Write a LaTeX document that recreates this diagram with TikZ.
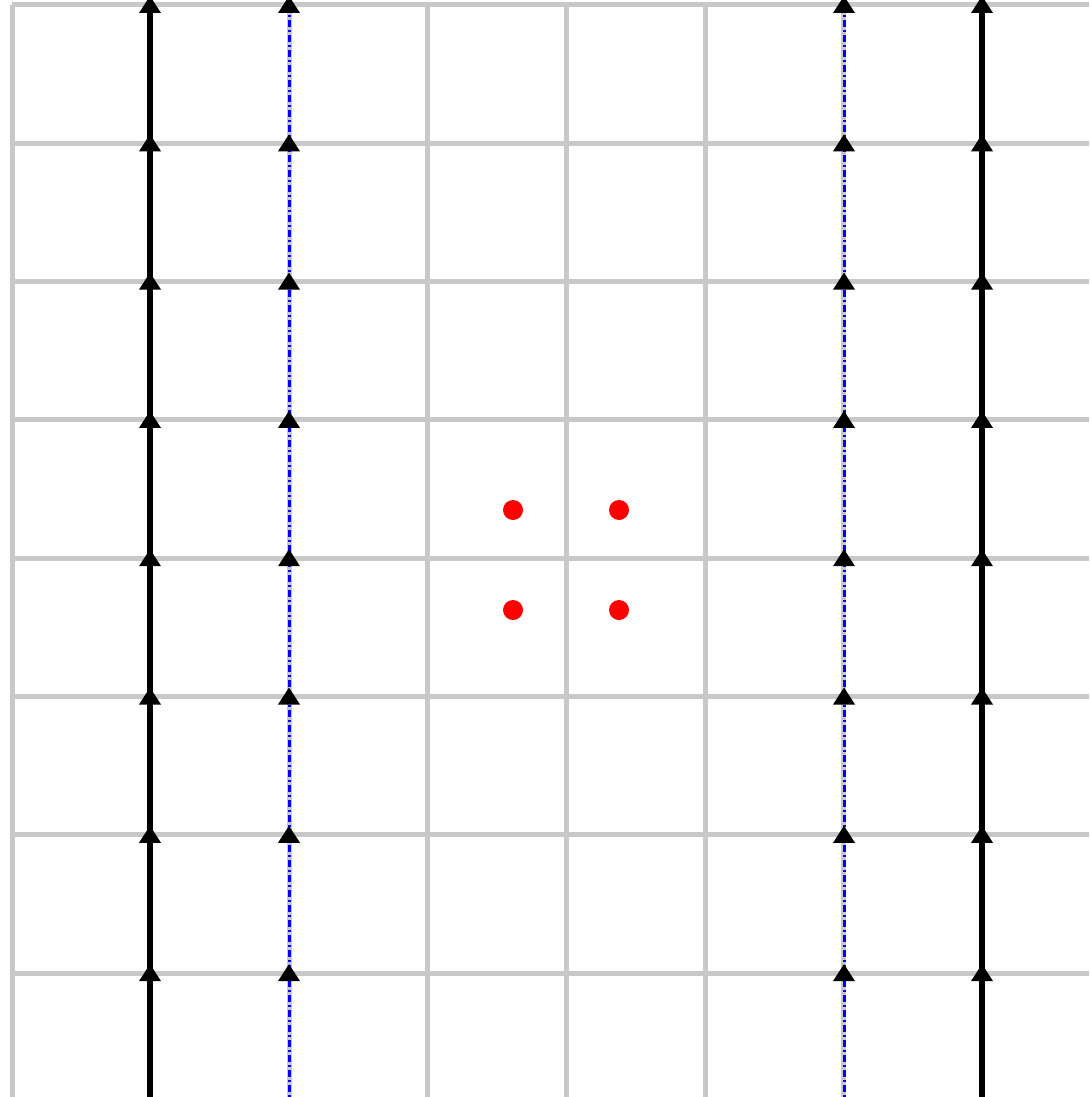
\documentclass[tikz,border=0pt]{standalone}
\begin{document}
\begin{tikzpicture}[x=1pt,y=-1pt,
  gridline/.style={draw={rgb,255:red,200;green,200;blue,200},line width=5pt},
  solidflow/.style={draw=black,line width=6pt},
  dashflow/.style={draw=blue,line width=3pt,dash pattern=on 7pt off 3pt on 2pt off 3pt},
  tri/.style={fill=black},
  reddot/.style={fill=red}]
\useasboundingbox (0,0) rectangle (1089,1097);
\fill[white] (0,0) rectangle (1089,1097);
% grid
\foreach \x in {12,150.6,289.2,427.8,566.4,705,843.6,982.2}
  \draw[gridline] (\x,5) -- (\x,1097);
\foreach \y in {5,143.3,281.6,419.9,558.2,696.5,834.8,973.1}
  \draw[gridline] (12,\y) -- (1089,\y);
% flow lines
\foreach \x in {150,982}
  \draw[solidflow] (\x,0) -- (\x,1097);
\foreach \x in {289,844}
  \draw[dashflow] (\x,5) -- (\x,1097);
% arrow markers
\foreach \x in {150,289,844,982}
  \foreach \y in {5,143.3,281.6,419.9,558.2,696.5,834.8,973.1}
    \fill[tri] (\x-11,\y+8) -- (\x+11,\y+8) -- (\x,\y-9) -- cycle;
% red points
\foreach \x/\y in {513/510,619/510,513/610,619/610}
  \fill[reddot] (\x,\y) circle (10);
\end{tikzpicture}
\end{document}
